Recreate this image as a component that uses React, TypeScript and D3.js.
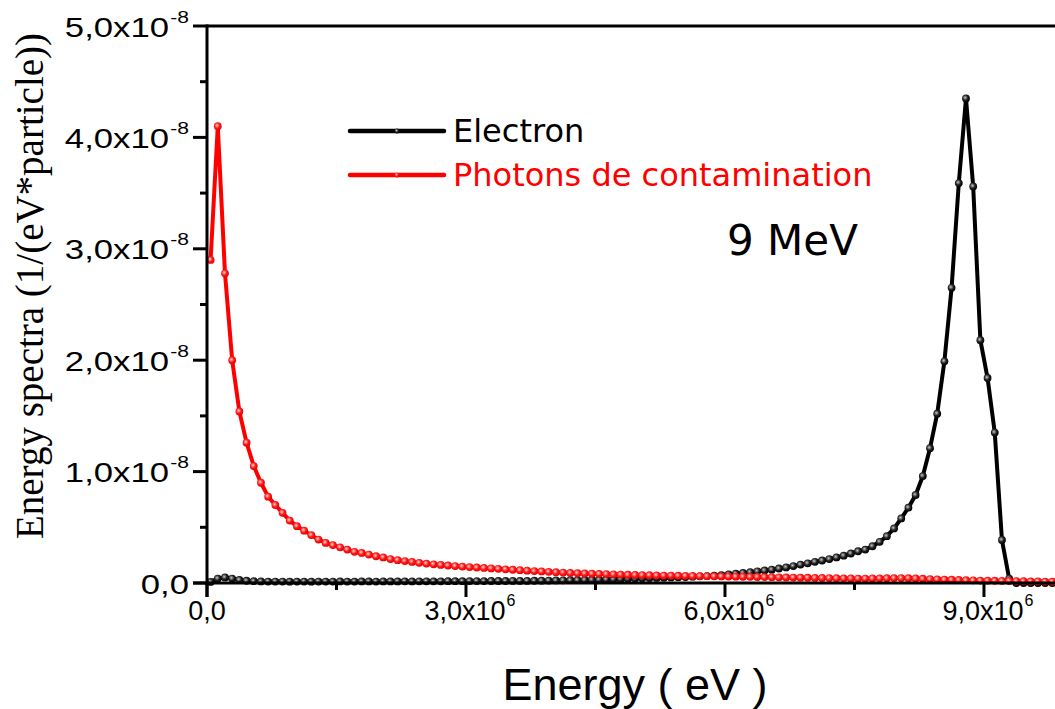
import React from 'react';
import * as d3 from 'd3';

const W = 1055;
const H = 709;

// Energy spectra values, in units of 1e-8 1/(eV*particle), one per energy bin (bin width 1/12 MeV)
const electron = [
  0.010, 0.040, 0.050, 0.040, 0.028, 0.020, 0.016, 0.014, 0.013, 0.013,
  0.013, 0.012, 0.013, 0.013, 0.012, 0.013, 0.013, 0.013, 0.014, 0.013,
  0.013, 0.014, 0.014, 0.013, 0.014, 0.014, 0.014, 0.015, 0.014, 0.015,
  0.015, 0.015, 0.015, 0.016, 0.016, 0.016, 0.017, 0.017, 0.017, 0.018,
  0.018, 0.018, 0.019, 0.019, 0.019, 0.020, 0.021, 0.022, 0.023, 0.024,
  0.025, 0.026, 0.028, 0.029, 0.030, 0.032, 0.034, 0.036, 0.038, 0.040,
  0.042, 0.044, 0.046, 0.048, 0.050, 0.052, 0.054, 0.057, 0.060, 0.062,
  0.065, 0.071, 0.078, 0.084, 0.090, 0.097, 0.105, 0.112, 0.120, 0.130,
  0.140, 0.152, 0.165, 0.177, 0.190, 0.202, 0.215, 0.230, 0.245, 0.265,
  0.285, 0.300, 0.330, 0.370, 0.420, 0.490, 0.580, 0.676, 0.790, 0.960,
  1.210, 1.520, 1.990, 2.650, 3.590, 4.350, 3.560, 2.180, 1.840, 1.350,
  0.386, 0.040, 0.000, 0.000, 0.000, 0.000, 0.000, 0.000, 0.000, 0.000,
];

const photons = [
  2.900, 4.100, 2.780, 2.000, 1.540, 1.260, 1.050, 0.900, 0.775, 0.700,
  0.630, 0.560, 0.510, 0.470, 0.430, 0.390, 0.360, 0.340, 0.320, 0.300,
  0.280, 0.270, 0.255, 0.240, 0.230, 0.215, 0.205, 0.197, 0.189, 0.181,
  0.174, 0.168, 0.162, 0.157, 0.152, 0.147, 0.143, 0.139, 0.135, 0.131,
  0.127, 0.123, 0.119, 0.115, 0.111, 0.107, 0.104, 0.100, 0.097, 0.094,
  0.090, 0.088, 0.086, 0.084, 0.082, 0.080, 0.078, 0.076, 0.074, 0.072,
  0.071, 0.070, 0.068, 0.067, 0.066, 0.065, 0.064, 0.063, 0.062, 0.061,
  0.060, 0.059, 0.058, 0.057, 0.056, 0.055, 0.054, 0.053, 0.052, 0.051,
  0.050, 0.049, 0.048, 0.047, 0.046, 0.045, 0.044, 0.043, 0.042, 0.041,
  0.040, 0.040, 0.041, 0.042, 0.043, 0.044, 0.044, 0.043, 0.041, 0.038,
  0.035, 0.033, 0.031, 0.029, 0.027, 0.025, 0.024, 0.022, 0.021, 0.020,
  0.019, 0.018, 0.017, 0.016, 0.015, 0.014, 0.013, 0.012, 0.011, 0.010,
];

const binWidthEV = 1e6 / 12;
const energies = electron.map((_, i) => (i + 0.5) * binWidthEV);

const xMajorTicks = [0, 3e6, 6e6, 9e6];
const xMinorTicks = [1.5e6, 4.5e6, 7.5e6];
const xTickMain = ['0,0', '3,0x10', '6,0x10', '9,0x10'];
const xTickExp = ['', '6', '6', '6'];

const yMajorTicks = [0, 1, 2, 3, 4, 5];
const yMinorTicks = [0.5, 1.5, 2.5, 3.5, 4.5];
const yTickMain = ['0,0', '1,0x10', '2,0x10', '3,0x10', '4,0x10', '5,0x10'];
const yTickExp = ['', '-8', '-8', '-8', '-8', '-8'];

const seriesNames = ['Electron', 'Photons de contamination'];
const seriesColors = ['#000000', '#ff0000'];

export default function App() {
  const x = d3.scaleLinear().domain([0, 1e7]).range([207, 1070.3]);
  const y = d3.scaleLinear().domain([0, 5]).range([583, 26]);
  const line = d3
    .line<number>()
    .x((_, i) => x(energies[i]))
    .y((d) => y(d));

  const series = [electron, photons];
  const sans = "'Liberation Sans', Arial, sans-serif";
  const verd = "'DejaVu Sans', Verdana, sans-serif";

  return (
    <svg
      width={W}
      height={H}
      style={{ position: 'absolute', left: 0, top: 0, background: '#fff' }}
    >
      <defs>
        <radialGradient id="gk" cx="40%" cy="40%" r="60%">
          <stop offset="0%" stopColor="#c8c8c8" />
          <stop offset="55%" stopColor="#222" />
          <stop offset="100%" stopColor="#000" />
        </radialGradient>
        <radialGradient id="gr" cx="40%" cy="40%" r="60%">
          <stop offset="0%" stopColor="#ffd8d8" />
          <stop offset="55%" stopColor="#ff1a1a" />
          <stop offset="100%" stopColor="#e80000" />
        </radialGradient>
      </defs>
      <rect x={0} y={0} width={W} height={H} fill="#fff" />

      {/* series */}
      {series.map((vals, si) => (
        <g key={si}>
          <path
            d={line(vals) || ''}
            fill="none"
            stroke={seriesColors[si]}
            strokeWidth={4}
            strokeLinejoin="round"
          />
          {vals.map((v, i) => (
            <circle
              key={i}
              cx={x(energies[i])}
              cy={y(v)}
              r={3.9}
              fill={si === 0 ? 'url(#gk)' : 'url(#gr)'}
            />
          ))}
        </g>
      ))}

      {/* axes */}
      <line x1={207} y1={26} x2={W} y2={26} stroke="#000" strokeWidth={3} />
      <line x1={207} y1={24.5} x2={207} y2={597} stroke="#000" strokeWidth={3} />
      <line x1={193} y1={583} x2={W} y2={583} stroke="#000" strokeWidth={3} />

      {yMajorTicks.map((t) => (
        <line key={'ym' + t} x1={193} x2={207} y1={y(t)} y2={y(t)} stroke="#000" strokeWidth={3} />
      ))}
      {yMinorTicks.map((t) => (
        <line key={'yn' + t} x1={200} x2={207} y1={y(t)} y2={y(t)} stroke="#000" strokeWidth={3} />
      ))}
      {xMajorTicks.map((t) => (
        <line key={'xm' + t} x1={x(t)} x2={x(t)} y1={583} y2={597} stroke="#000" strokeWidth={3} />
      ))}
      {xMinorTicks.map((t) => (
        <line key={'xn' + t} x1={x(t)} x2={x(t)} y1={583} y2={590} stroke="#000" strokeWidth={3} />
      ))}

      {/* y tick labels */}
      {yMajorTicks.map((t, i) => (
        <g key={'yl' + t} transform={`translate(189,${y(t) + 10.5}) scale(1.24,1)`}>
          <text x={0} y={0} textAnchor="end" fontFamily={sans} fontSize={28} fill="#000">
            {yTickMain[i]}
            {yTickExp[i] && (
              <tspan fontSize={17} dy={-14} dx={1}>
                {yTickExp[i]}
              </tspan>
            )}
          </text>
        </g>
      ))}

      {/* x tick labels */}
      {xMajorTicks.map((t, i) => (
        <text
          key={'xl' + t}
          x={x(t) + (i === 0 ? 0 : 4)}
          y={620}
          textAnchor="middle"
          fontFamily={sans}
          fontSize={27}
          fill="#000"
        >
          {xTickMain[i]}
          {xTickExp[i] && (
            <tspan fontSize={16} dy={-14} dx={1}>
              {xTickExp[i]}
            </tspan>
          )}
        </text>
      ))}

      {/* axis titles */}
      <text x={635} y={700} textAnchor="middle" fontFamily={sans} fontSize={45} fill="#000">
        Energy ( eV )
      </text>
      <text
        transform="translate(43,286) rotate(-90)"
        textAnchor="middle"
        fontFamily="'Liberation Serif', 'Times New Roman', serif"
        fontSize={39}
        fill="#000"
      >
        Energy spectra (1/(eV*particle))
      </text>

      {/* legend */}
      {seriesNames.map((name, i) => (
        <g key={name}>
          <line
            x1={350}
            x2={444}
            y1={131 + i * 44}
            y2={131 + i * 44}
            stroke={seriesColors[i]}
            strokeWidth={4.5}
            strokeLinecap="round"
          />
          <circle cx={397} cy={131 + i * 44} r={2.5} fill={i === 0 ? 'url(#gk)' : 'url(#gr)'} />
          <text x={453} y={142 + i * 44} fontFamily={verd} fontSize={32} fill={seriesColors[i]}>
            {name}
          </text>
        </g>
      ))}
      <text x={727} y={255} fontFamily={verd} fontSize={42} fill="#000">
        9 MeV
      </text>
    </svg>
  );
}
